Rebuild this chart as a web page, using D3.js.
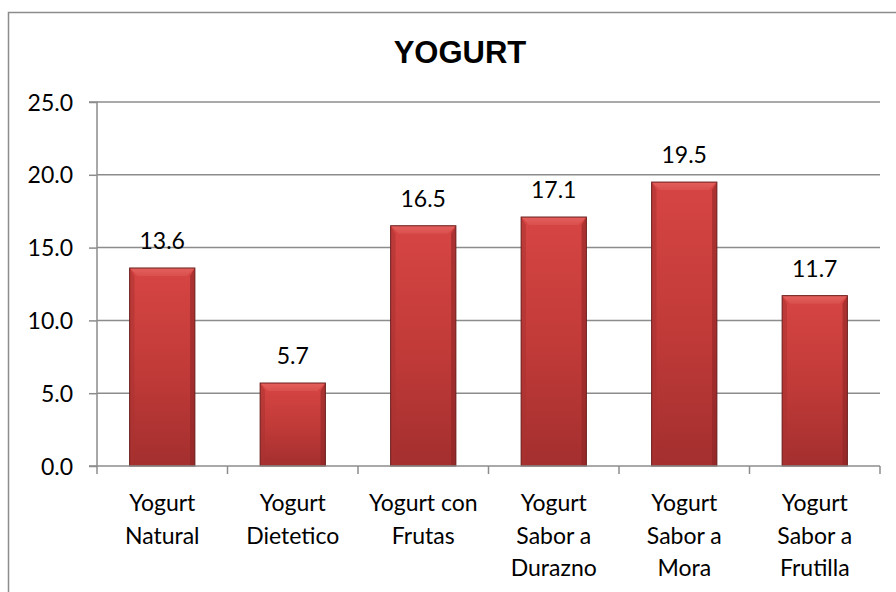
<!DOCTYPE html>
<html><head><meta charset="utf-8">
<script src="https://cdn.jsdelivr.net/npm/d3@7"></script>
<style>html,body{margin:0;padding:0;background:#fff;overflow:hidden}</style>
</head><body>
<script>
const categories = [["Yogurt","Natural"],["Yogurt","Dietetico"],["Yogurt con","Frutas"],["Yogurt","Sabor a","Durazno"],["Yogurt","Sabor a","Mora"],["Yogurt","Sabor a","Frutilla"]];
const values = [13.6, 5.7, 16.5, 17.1, 19.5, 11.7];
const yTicks = [0, 5, 10, 15, 20, 25];
const title = "YOGURT";

(function () {
const W = 896, H = 592;
const svg = d3.select("body").append("svg").attr("width", W).attr("height", H);
const pL = 97, pR = 880, pT = 102, pB = 466;
const ids = categories.map((c, i) => "c" + i);
const x = d3.scaleBand().domain(ids).range([pL, pR]).paddingInner(0.5).paddingOuter(0.25);
const y = d3.scaleLinear().domain([0, 25]).range([pB, pT]);

const defs = svg.append("defs");
const g1 = defs.append("linearGradient").attr("id", "barg").attr("x1", 0).attr("y1", 0).attr("x2", 0).attr("y2", 1);
g1.append("stop").attr("offset", "0%").attr("stop-color", "#d64543");
g1.append("stop").attr("offset", "50%").attr("stop-color", "#c23b39");
g1.append("stop").attr("offset", "100%").attr("stop-color", "#a32f2e");
const g2 = defs.append("linearGradient").attr("id", "bevt").attr("x1", 0).attr("y1", 0).attr("x2", 0).attr("y2", 1);
g2.append("stop").attr("offset", "0%").attr("stop-color", "#e4605d");
g2.append("stop").attr("offset", "100%").attr("stop-color", "#d9504d");

// outer border
svg.append("path").attr("d", `M8.5,${H} L8.5,12.5 L${W},12.5`).attr("fill", "none").attr("stroke", "#8c8c8c").attr("stroke-width", 1.5);

// title
svg.append("text").attr("x", 460).attr("y", 63).attr("text-anchor", "middle")
  .style("font-family", "'Liberation Sans', Arial, sans-serif").style("font-weight", "bold").style("font-size", "31px").text(title);

// grid
svg.append("g").selectAll("line").data(yTicks.filter(d => d > 0)).join("line")
  .attr("x1", pL).attr("x2", pR).attr("y1", d => y(d)).attr("y2", d => y(d))
  .attr("stroke", "#8c8c8c").attr("stroke-width", 1.5);

// y axis
const ya = svg.append("g").attr("transform", `translate(${pL},0)`)
  .call(d3.axisLeft(y).tickValues(yTicks).tickFormat(d3.format(".1f")).tickSize(8).tickPadding(16));
ya.select(".domain").attr("stroke", "#8c8c8c").attr("stroke-width", 1.5).attr("d", `M-8,${pT}H0V${pB}H-8`);
ya.selectAll(".tick line").attr("stroke", "#8c8c8c").attr("stroke-width", 1.5);
ya.selectAll(".tick text").style("font-family", "Lato, sans-serif").style("font-size", "23px").attr("fill", "#000").attr("dy", "0.35em");

// bars
const bw = x.bandwidth();
const bars = svg.append("g").selectAll("g").data(values).join("g")
  .attr("transform", (d, i) => `translate(${x(ids[i])},0)`);
const b = 8;
bars.append("rect").attr("x", 0).attr("y", d => y(d)).attr("width", bw).attr("height", d => y(0) - y(d)).attr("fill", "url(#barg)");
bars.append("path").attr("d", d => { const t = y(d); return `M0,${t}L${bw},${t}L${bw - b},${t + b}L${b},${t + b}Z`; }).attr("fill", "url(#bevt)");
bars.append("path").attr("d", d => { const t = y(d); return `M0,${t}L${b * 0.6},${t + b}L${b * 0.6},${y(0)}L0,${y(0)}Z`; }).attr("fill", "#a93332").attr("opacity", 0.55);
bars.append("path").attr("d", d => { const t = y(d); return `M${bw},${t}L${bw - b * 0.6},${t + b}L${bw - b * 0.6},${y(0)}L${bw},${y(0)}Z`; }).attr("fill", "#8a2524").attr("opacity", 0.55);
bars.append("rect").attr("x", 0).attr("y", d => y(d)).attr("width", bw).attr("height", d => y(0) - y(d))
  .attr("fill", "none").attr("stroke", "#6a1f1e").attr("stroke-width", 1);

// value labels
bars.append("text").attr("x", bw / 2).attr("y", d => y(d) - 27).attr("dy", "0.35em").attr("text-anchor", "middle")
  .style("font-family", "Lato, sans-serif").style("font-size", "23px").text(d => d.toFixed(1));

// x axis
const xa = svg.append("g").attr("transform", `translate(0,${pB})`);
xa.append("line").attr("x1", pL).attr("x2", pR).attr("stroke", "#8c8c8c").attr("stroke-width", 1.5);
const bounds = d3.range(ids.length + 1).map(i => pL + i * (pR - pL) / ids.length);
xa.selectAll(".tk").data(bounds).join("line").attr("class", "tk")
  .attr("x1", d => d).attr("x2", d => d).attr("y1", 0).attr("y2", 8).attr("stroke", "#8c8c8c").attr("stroke-width", 1.5);
const labels = xa.selectAll(".lab").data(categories).join("text").attr("class", "lab")
  .attr("text-anchor", "middle").attr("transform", (d, i) => `translate(${x(ids[i]) + bw / 2},0)`)
  .style("font-family", "Lato, sans-serif").style("font-size", "23px");
labels.selectAll("tspan").data(d => d).join("tspan").attr("x", 0).attr("y", (d, i) => 37 + i * 32.5).attr("dy", "0.35em").text(d => d);
})();
</script>
</body></html>
